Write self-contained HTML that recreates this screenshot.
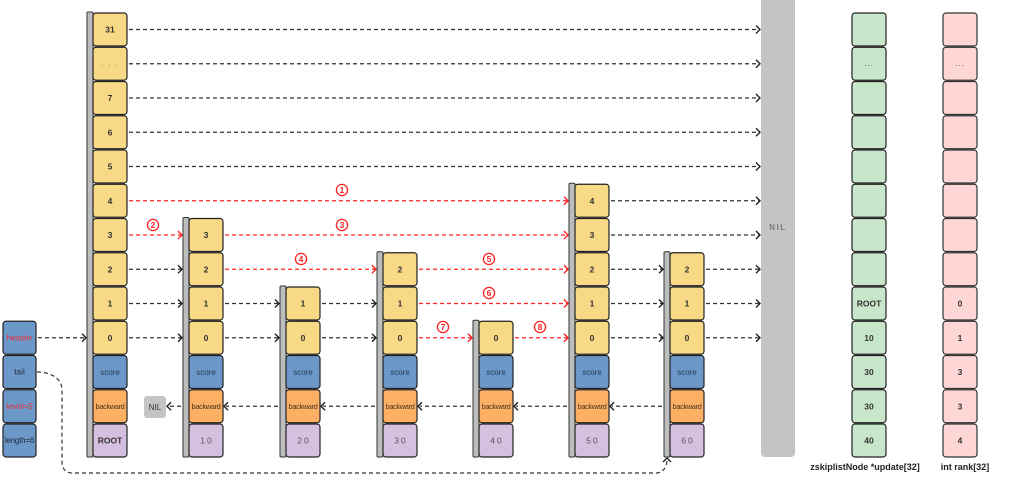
<!DOCTYPE html>
<html><head><meta charset="utf-8"><style>
html,body{margin:0;padding:0;background:#fff;}
svg{display:block;}
text{font-family:"Liberation Sans",Arial,sans-serif;}
.y{fill:#f7d986;stroke:#222;stroke-width:1.2;}
.b{fill:#6b98c8;stroke:#222;stroke-width:1.2;}
.o{fill:#fdb064;stroke:#222;stroke-width:1.2;}
.p{fill:#d5c0e0;stroke:#222;stroke-width:1.2;}
.g{fill:#c8e6c9;stroke:#222;stroke-width:1.2;}
.k{fill:#ffd6d6;stroke:#333;stroke-width:1.2;}
.bar{fill:#bdbdbd;stroke:#333;stroke-width:1;}
.n{font-size:8.5px;font-weight:bold;fill:#333;text-anchor:middle;}
.s{font-size:8px;fill:#2a3a50;text-anchor:middle;}
.bw{font-size:7.5px;fill:#4a3320;text-anchor:middle;letter-spacing:-0.4px;}
.v{font-size:8.5px;fill:#555;text-anchor:middle;letter-spacing:2px;}
.dl{stroke:#333;stroke-width:1.2;stroke-dasharray:4 3;fill:none;}
.rl{stroke:#f22;stroke-width:1.2;stroke-dasharray:4 3;fill:none;}
.ah{stroke:#222;stroke-width:1.4;fill:none;}
.rh{stroke:#f22;stroke-width:1.4;fill:none;}
.rc{fill:#fff;stroke:#f22;stroke-width:1.3;}
.rt{font-size:8.5px;font-weight:bold;fill:#f22;text-anchor:middle;}
</style></head><body>
<svg width="1024" height="503" viewBox="0 0 1024 503" xmlns="http://www.w3.org/2000/svg">

<!-- Big NIL -->
<rect x="761" y="-4" width="34" height="461" rx="4" fill="#c4c4c4"/>
<text x="778" y="230" font-size="8" font-weight="bold" fill="#777" text-anchor="middle" letter-spacing="1.5">NIL</text>

<!-- ===== connectors (black) ===== -->
<line class="dl" x1="129" y1="29.5" x2="759" y2="29.5"/><path class="ah" d="M756 25.5 L760 29.5 L756 33.5"/>
<line class="dl" x1="129" y1="63.75" x2="759" y2="63.75"/><path class="ah" d="M756 59.75 L760 63.75 L756 67.75"/>
<line class="dl" x1="129" y1="98" x2="759" y2="98"/><path class="ah" d="M756 94 L760 98 L756 102"/>
<line class="dl" x1="129" y1="132.25" x2="759" y2="132.25"/><path class="ah" d="M756 128.25 L760 132.25 L756 136.25"/>
<line class="dl" x1="129" y1="166.5" x2="759" y2="166.5"/><path class="ah" d="M756 162.5 L760 166.5 L756 170.5"/>
<line class="dl" x1="129" y1="269.25" x2="181" y2="269.25"/><path class="ah" d="M178 265.25 L182 269.25 L178 273.25"/>
<line class="dl" x1="129" y1="303.5" x2="181" y2="303.5"/><path class="ah" d="M178 299.5 L182 303.5 L178 307.5"/>
<line class="dl" x1="129" y1="337.75" x2="181" y2="337.75"/><path class="ah" d="M178 333.75 L182 337.75 L178 341.75"/>
<line class="dl" x1="225" y1="303.5" x2="278" y2="303.5"/><path class="ah" d="M275 299.5 L279 303.5 L275 307.5"/>
<line class="dl" x1="225" y1="337.75" x2="278" y2="337.75"/><path class="ah" d="M275 333.75 L279 337.75 L275 341.75"/>
<line class="dl" x1="322" y1="303.5" x2="375" y2="303.5"/><path class="ah" d="M372 299.5 L376 303.5 L372 307.5"/>
<line class="dl" x1="322" y1="337.75" x2="375" y2="337.75"/><path class="ah" d="M372 333.75 L376 337.75 L372 341.75"/>
<line class="dl" x1="611" y1="200.75" x2="759" y2="200.75"/><path class="ah" d="M756 196.75 L760 200.75 L756 204.75"/>
<line class="dl" x1="611" y1="235" x2="759" y2="235"/><path class="ah" d="M756 231 L760 235 L756 239"/>
<line class="dl" x1="611" y1="269.25" x2="662" y2="269.25"/><path class="ah" d="M659 265.25 L663 269.25 L659 273.25"/>
<line class="dl" x1="611" y1="303.5" x2="662" y2="303.5"/><path class="ah" d="M659 299.5 L663 303.5 L659 307.5"/>
<line class="dl" x1="611" y1="337.75" x2="662" y2="337.75"/><path class="ah" d="M659 333.75 L663 337.75 L659 341.75"/>
<line class="dl" x1="706" y1="269.25" x2="759" y2="269.25"/><path class="ah" d="M756 265.25 L760 269.25 L756 273.25"/>
<line class="dl" x1="706" y1="303.5" x2="759" y2="303.5"/><path class="ah" d="M756 299.5 L760 303.5 L756 307.5"/>
<line class="dl" x1="706" y1="337.75" x2="759" y2="337.75"/><path class="ah" d="M756 333.75 L760 337.75 L756 341.75"/>
<line class="dl" x1="38" y1="337.75" x2="85" y2="337.75"/><path class="ah" d="M82 333.75 L86 337.75 L82 341.75"/>

<!-- backward -->
<line class="dl" x1="662" y1="406.25" x2="612" y2="406.25"/><path class="ah" d="M614 402.25 L610 406.25 L614 410.25"/>
<line class="dl" x1="567" y1="406.25" x2="516" y2="406.25"/><path class="ah" d="M518 402.25 L514 406.25 L518 410.25"/>
<line class="dl" x1="471" y1="406.25" x2="420" y2="406.25"/><path class="ah" d="M422 402.25 L418 406.25 L422 410.25"/>
<line class="dl" x1="375" y1="406.25" x2="323" y2="406.25"/><path class="ah" d="M325 402.25 L321 406.25 L325 410.25"/>
<line class="dl" x1="278" y1="406.25" x2="226" y2="406.25"/><path class="ah" d="M228 402.25 L224 406.25 L228 410.25"/>
<line class="dl" x1="181" y1="406.25" x2="169" y2="406.25"/><path class="ah" d="M171 402.25 L167 406.25 L171 410.25"/>

<!-- tail curve -->
<path class="dl" d="M37 372 C50 372 62 378 62 390 L62 462 C62 469 66 473 72 473 L656 473 C662 473 667 468 667 460"/>
<path class="ah" d="M663 462 L667 458 L671 462"/>

<!-- ===== red connectors ===== -->
<line class="rl" x1="129" y1="200.75" x2="567" y2="200.75"/><path class="rh" d="M564 196.75 L568 200.75 L564 204.75"/>
<line class="rl" x1="129" y1="235" x2="181" y2="235"/><path class="rh" d="M178 231 L182 235 L178 239"/>
<line class="rl" x1="225" y1="235" x2="567" y2="235"/><path class="rh" d="M564 231 L568 235 L564 239"/>
<line class="rl" x1="225" y1="269.25" x2="375" y2="269.25"/><path class="rh" d="M372 265.25 L376 269.25 L372 273.25"/>
<line class="rl" x1="419" y1="269.25" x2="567" y2="269.25"/><path class="rh" d="M564 265.25 L568 269.25 L564 273.25"/>
<line class="rl" x1="419" y1="303.5" x2="567" y2="303.5"/><path class="rh" d="M564 299.5 L568 303.5 L564 307.5"/>
<line class="rl" x1="419" y1="337.75" x2="471" y2="337.75"/><path class="rh" d="M468 333.75 L472 337.75 L468 341.75"/>
<line class="rl" x1="515" y1="337.75" x2="567" y2="337.75"/><path class="rh" d="M564 333.75 L568 337.75 L564 341.75"/>

<!-- red step labels -->
<circle class="rc" cx="342" cy="190" r="5.6"/><text class="rt" x="342" y="193">1</text>
<circle class="rc" cx="153" cy="225" r="5.6"/><text class="rt" x="153" y="228">2</text>
<circle class="rc" cx="342" cy="225" r="5.6"/><text class="rt" x="342" y="228">3</text>
<circle class="rc" cx="301" cy="259" r="5.6"/><text class="rt" x="301" y="262">4</text>
<circle class="rc" cx="489" cy="259" r="5.6"/><text class="rt" x="489" y="262">5</text>
<circle class="rc" cx="489" cy="293" r="5.6"/><text class="rt" x="489" y="296">6</text>
<circle class="rc" cx="443" cy="327" r="5.6"/><text class="rt" x="443" y="330">7</text>
<circle class="rc" cx="540" cy="327" r="5.6"/><text class="rt" x="540" y="330">8</text>

<!-- small NIL -->
<rect x="144" y="396" width="22" height="22" rx="3" fill="#c4c4c4"/>
<text x="155" y="410" font-size="8" fill="#333" text-anchor="middle">NIL</text>

<!-- ===== header node ===== -->
<rect class="bar" x="87" y="12" width="6" height="445" rx="1"/>
<rect class="y" x="93" y="13" width="34" height="33" rx="3"/><text class="n" x="110" y="32.5">31</text>
<rect class="y" x="93" y="47.25" width="34" height="33" rx="3"/><text x="110" y="66" font-size="8" fill="#666" text-anchor="middle" letter-spacing="1.5">. . .</text>
<rect class="y" x="93" y="81.5" width="34" height="33" rx="3"/><text class="n" x="110" y="101">7</text>
<rect class="y" x="93" y="115.75" width="34" height="33" rx="3"/><text class="n" x="110" y="135.25">6</text>
<rect class="y" x="93" y="150" width="34" height="33" rx="3"/><text class="n" x="110" y="169.5">5</text>
<rect class="y" x="93" y="184.25" width="34" height="33" rx="3"/><text class="n" x="110" y="203.75">4</text>
<rect class="y" x="93" y="218.5" width="34" height="33" rx="3"/><text class="n" x="110" y="238">3</text>
<rect class="y" x="93" y="252.75" width="34" height="33" rx="3"/><text class="n" x="110" y="272.25">2</text>
<rect class="y" x="93" y="287" width="34" height="33" rx="3"/><text class="n" x="110" y="306.5">1</text>
<rect class="y" x="93" y="321.25" width="34" height="33" rx="3"/><text class="n" x="110" y="340.75">0</text>
<rect class="b" x="93" y="355.5" width="34" height="33" rx="3"/><text class="s" x="110" y="375">score</text>
<rect class="o" x="93" y="389.75" width="34" height="33" rx="3"/><text class="bw" x="110" y="409">backward</text>
<rect class="p" x="93" y="424" width="34" height="33" rx="3"/><text class="n" x="110" y="443.5">ROOT</text>

<!-- node 10 -->
<rect class="bar" x="183" y="217.5" width="6" height="239.5" rx="1"/>
<rect class="y" x="189" y="218.5" width="34" height="33" rx="3"/><text class="n" x="206" y="238">3</text>
<rect class="y" x="189" y="252.75" width="34" height="33" rx="3"/><text class="n" x="206" y="272.25">2</text>
<rect class="y" x="189" y="287" width="34" height="33" rx="3"/><text class="n" x="206" y="306.5">1</text>
<rect class="y" x="189" y="321.25" width="34" height="33" rx="3"/><text class="n" x="206" y="340.75">0</text>
<rect class="b" x="189" y="355.5" width="34" height="33" rx="3"/><text class="s" x="206" y="375">score</text>
<rect class="o" x="189" y="389.75" width="34" height="33" rx="3"/><text class="bw" x="206" y="409">backward</text>
<rect class="p" x="189" y="424" width="34" height="33" rx="3"/><text class="v" x="207" y="443.5">10</text>

<!-- node 20 -->
<rect class="bar" x="280" y="286" width="6" height="171" rx="1"/>
<rect class="y" x="286" y="287" width="34" height="33" rx="3"/><text class="n" x="303" y="306.5">1</text>
<rect class="y" x="286" y="321.25" width="34" height="33" rx="3"/><text class="n" x="303" y="340.75">0</text>
<rect class="b" x="286" y="355.5" width="34" height="33" rx="3"/><text class="s" x="303" y="375">score</text>
<rect class="o" x="286" y="389.75" width="34" height="33" rx="3"/><text class="bw" x="303" y="409">backward</text>
<rect class="p" x="286" y="424" width="34" height="33" rx="3"/><text class="v" x="304" y="443.5">20</text>

<!-- node 30 -->
<rect class="bar" x="377" y="251.75" width="6" height="205.25" rx="1"/>
<rect class="y" x="383" y="252.75" width="34" height="33" rx="3"/><text class="n" x="400" y="272.25">2</text>
<rect class="y" x="383" y="287" width="34" height="33" rx="3"/><text class="n" x="400" y="306.5">1</text>
<rect class="y" x="383" y="321.25" width="34" height="33" rx="3"/><text class="n" x="400" y="340.75">0</text>
<rect class="b" x="383" y="355.5" width="34" height="33" rx="3"/><text class="s" x="400" y="375">score</text>
<rect class="o" x="383" y="389.75" width="34" height="33" rx="3"/><text class="bw" x="400" y="409">backward</text>
<rect class="p" x="383" y="424" width="34" height="33" rx="3"/><text class="v" x="401" y="443.5">30</text>

<!-- node 40 -->
<rect class="bar" x="473" y="320.25" width="6" height="136.75" rx="1"/>
<rect class="y" x="479" y="321.25" width="34" height="33" rx="3"/><text class="n" x="496" y="340.75">0</text>
<rect class="b" x="479" y="355.5" width="34" height="33" rx="3"/><text class="s" x="496" y="375">score</text>
<rect class="o" x="479" y="389.75" width="34" height="33" rx="3"/><text class="bw" x="496" y="409">backward</text>
<rect class="p" x="479" y="424" width="34" height="33" rx="3"/><text class="v" x="497" y="443.5">40</text>

<!-- node 50 -->
<rect class="bar" x="569" y="183.25" width="6" height="273.75" rx="1"/>
<rect class="y" x="575" y="184.25" width="34" height="33" rx="3"/><text class="n" x="592" y="203.75">4</text>
<rect class="y" x="575" y="218.5" width="34" height="33" rx="3"/><text class="n" x="592" y="238">3</text>
<rect class="y" x="575" y="252.75" width="34" height="33" rx="3"/><text class="n" x="592" y="272.25">2</text>
<rect class="y" x="575" y="287" width="34" height="33" rx="3"/><text class="n" x="592" y="306.5">1</text>
<rect class="y" x="575" y="321.25" width="34" height="33" rx="3"/><text class="n" x="592" y="340.75">0</text>
<rect class="b" x="575" y="355.5" width="34" height="33" rx="3"/><text class="s" x="592" y="375">score</text>
<rect class="o" x="575" y="389.75" width="34" height="33" rx="3"/><text class="bw" x="592" y="409">backward</text>
<rect class="p" x="575" y="424" width="34" height="33" rx="3"/><text class="v" x="593" y="443.5">50</text>

<!-- node 60 -->
<rect class="bar" x="664" y="251.75" width="6" height="205.25" rx="1"/>
<rect class="y" x="670" y="252.75" width="34" height="33" rx="3"/><text class="n" x="687" y="272.25">2</text>
<rect class="y" x="670" y="287" width="34" height="33" rx="3"/><text class="n" x="687" y="306.5">1</text>
<rect class="y" x="670" y="321.25" width="34" height="33" rx="3"/><text class="n" x="687" y="340.75">0</text>
<rect class="b" x="670" y="355.5" width="34" height="33" rx="3"/><text class="s" x="687" y="375">score</text>
<rect class="o" x="670" y="389.75" width="34" height="33" rx="3"/><text class="bw" x="687" y="409">backward</text>
<rect class="p" x="670" y="424" width="34" height="33" rx="3"/><text class="v" x="688" y="443.5">60</text>

<!-- header struct -->
<rect class="b" x="3" y="321.25" width="33" height="33" rx="3"/><text x="19.5" y="340.5" font-size="8.3" fill="#e8303a" text-anchor="middle">header</text>
<rect class="b" x="3" y="355.5" width="33" height="33" rx="3"/><text x="19.5" y="374.5" font-size="8.3" fill="#1e2a3a" text-anchor="middle">tail</text>
<rect class="b" x="3" y="389.75" width="33" height="33" rx="3"/><text x="19.5" y="409" font-size="8.3" fill="#e8303a" text-anchor="middle">level=5</text>
<rect class="b" x="3" y="424" width="33" height="33" rx="3"/><text x="19.5" y="443" font-size="8" fill="#1e2a3a" text-anchor="middle" letter-spacing="-0.2">length=6</text>

<!-- update array -->
<rect class="g" x="852" y="13" width="34" height="33" rx="3"/>
<rect class="g" x="852" y="47.25" width="34" height="33" rx="3"/><text x="869" y="66" font-size="8" fill="#555" text-anchor="middle" letter-spacing="1">...</text>
<rect class="g" x="852" y="81.5" width="34" height="33" rx="3"/>
<rect class="g" x="852" y="115.75" width="34" height="33" rx="3"/>
<rect class="g" x="852" y="150" width="34" height="33" rx="3"/>
<rect class="g" x="852" y="184.25" width="34" height="33" rx="3"/>
<rect class="g" x="852" y="218.5" width="34" height="33" rx="3"/>
<rect class="g" x="852" y="252.75" width="34" height="33" rx="3"/>
<rect class="g" x="852" y="287" width="34" height="33" rx="3"/><text class="n" x="869" y="306.5" font-size="7.8">ROOT</text>
<rect class="g" x="852" y="321.25" width="34" height="33" rx="3"/><text class="n" x="869" y="340.75">10</text>
<rect class="g" x="852" y="355.5" width="34" height="33" rx="3"/><text class="n" x="869" y="375">30</text>
<rect class="g" x="852" y="389.75" width="34" height="33" rx="3"/><text class="n" x="869" y="409.25">30</text>
<rect class="g" x="852" y="424" width="34" height="33" rx="3"/><text class="n" x="869" y="443.5">40</text>

<!-- rank array -->
<rect class="k" x="943" y="13" width="34" height="33" rx="3"/>
<rect class="k" x="943" y="47.25" width="34" height="33" rx="3"/><text x="960" y="66" font-size="8" fill="#555" text-anchor="middle" letter-spacing="1">...</text>
<rect class="k" x="943" y="81.5" width="34" height="33" rx="3"/>
<rect class="k" x="943" y="115.75" width="34" height="33" rx="3"/>
<rect class="k" x="943" y="150" width="34" height="33" rx="3"/>
<rect class="k" x="943" y="184.25" width="34" height="33" rx="3"/>
<rect class="k" x="943" y="218.5" width="34" height="33" rx="3"/>
<rect class="k" x="943" y="252.75" width="34" height="33" rx="3"/>
<rect class="k" x="943" y="287" width="34" height="33" rx="3"/><text class="n" x="960" y="306.5">0</text>
<rect class="k" x="943" y="321.25" width="34" height="33" rx="3"/><text class="n" x="960" y="340.75">1</text>
<rect class="k" x="943" y="355.5" width="34" height="33" rx="3"/><text class="n" x="960" y="375">3</text>
<rect class="k" x="943" y="389.75" width="34" height="33" rx="3"/><text class="n" x="960" y="409.25">3</text>
<rect class="k" x="943" y="424" width="34" height="33" rx="3"/><text class="n" x="960" y="443.5">4</text>

<!-- captions -->
<text x="865" y="470" font-size="9" font-weight="bold" fill="#222" text-anchor="middle">zskiplistNode *update[32]</text>
<text x="965" y="470" font-size="9" font-weight="bold" fill="#222" text-anchor="middle">int rank[32]</text>
</svg>
</body></html>
